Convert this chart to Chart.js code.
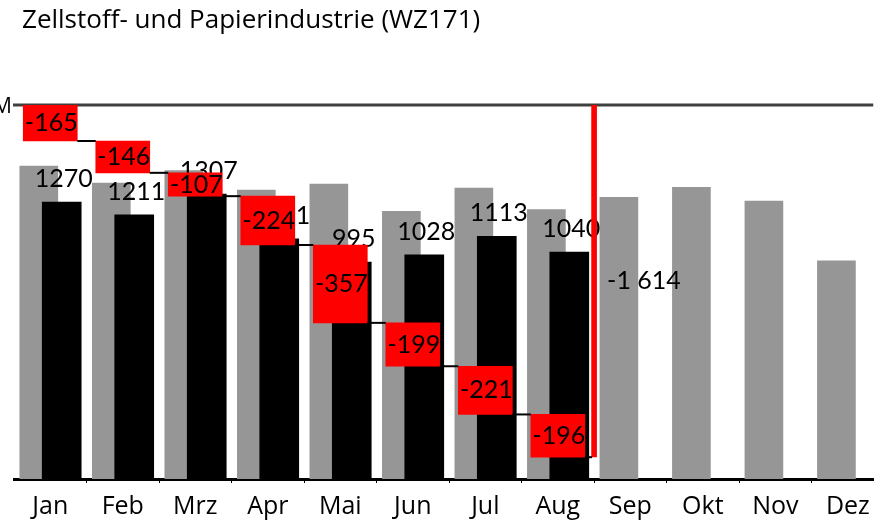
<!DOCTYPE html>
<html>
<head>
<meta charset="utf-8">
<script src="https://cdn.jsdelivr.net/npm/chart.js@4.4.1/dist/chart.umd.min.js"></script>
<style>
  html, body { margin: 0; padding: 0; background: #fff; }
  #wrap { width: 879px; height: 524px; }
</style>
</head>
<body>
<div id="wrap"><canvas id="umsatzChart"></canvas></div>
<script>
// Daten
const monate = ['Jan', 'Feb', 'Mrz', 'Apr', 'Mai', 'Jun', 'Jul', 'Aug', 'Sep', 'Okt', 'Nov', 'Dez']
const vorjahr = [1435, 1357, 1414, 1325, 1352, 1227, 1334, 1236, 1292, 1338, 1274, 1000]
const aktuell = [1270, 1211, 1307, 1101, 995, 1028, 1113, 1040]
const differenz = [-165, -146, -107, -224, -357, -199, -221, -196]
const gesamt = -1614
const titel = 'Zellstoff- und Papierindustrie (WZ171)'

// kumulierte Differenz fuer den Wasserfall
let kum = []
let summe = 0
for (let i = 0; i < differenz.length; i++) {
    summe += differenz[i]
    kum.push(summe)
}

const versatz = 0.158   // Verschiebung grau/schwarz innerhalb des Monats
const yMax = 1715
const xMin = -0.5
const xMax = 11.35

function tausender(v){
    let s = String(Math.abs(v)).replace(/\B(?=(\d{3})+(?!\d))/g, ' ')
    return (v < 0 ? '-' : '') + s
}

const beschriftung = {
    id: 'beschriftung',
    beforeDatasetsDraw(chart){
        const {ctx, chartArea, scales} = chart
        const y0 = scales.y2.getPixelForValue(0)
        ctx.save()
        ctx.strokeStyle = '#404040'
        ctx.lineWidth = 3
        ctx.beginPath()
        ctx.moveTo(13, y0)
        ctx.lineTo(chartArea.right, y0)
        ctx.stroke()
        ctx.restore()
    },
    afterDatasetDraw(chart, args){
        // Werte ueber den schwarzen Saeulen, unter dem Wasserfall
        if (chart.data.datasets[args.index].label !== 'aktuell') return
        const {ctx, scales} = chart
        ctx.save()
        ctx.font = '25px Lato'
        ctx.fillStyle = '#000'
        ctx.textAlign = 'center'
        ctx.textBaseline = 'middle'
        aktuell.forEach((v, i) => {
            ctx.fillText(String(v), scales.x.getPixelForValue(i + versatz) + 2, scales.y.getPixelForValue(v) - 23)
        })
        ctx.restore()
    },
    afterDatasetsDraw(chart){
        const {ctx, scales} = chart
        const x = scales.x, y2 = scales.y2
        const halb = 27
        const gesamtX = x.getPixelForValue(aktuell.length - 0.5)

        // Verbindungslinien
        ctx.save()
        ctx.strokeStyle = '#000'
        ctx.lineWidth = 2
        kum.forEach((k, i) => {
            const yy = y2.getPixelForValue(k)
            const von = x.getPixelForValue(i) + halb
            const bis = i < kum.length - 1 ? x.getPixelForValue(i + 1) - halb : gesamtX - 2
            ctx.beginPath()
            ctx.moveTo(von, yy)
            ctx.lineTo(bis, yy)
            ctx.stroke()
        })

        // Differenzen im Wasserfall
        ctx.font = '25px Lato'
        ctx.fillStyle = '#000'
        ctx.textAlign = 'center'
        ctx.textBaseline = 'middle'
        differenz.forEach((d, i) => {
            const oben = y2.getPixelForValue(kum[i] - d)
            const unten = y2.getPixelForValue(kum[i])
            ctx.fillText(String(d), x.getPixelForValue(i) + 1, (oben + unten) / 2)
        })

        // Gesamtwert
        ctx.textAlign = 'left'
        ctx.fillText(tausender(gesamt), gesamtX + 13, (y2.getPixelForValue(0) + y2.getPixelForValue(gesamt)) / 2)
        ctx.restore()
    },
    afterDraw(chart){
        const {ctx, scales} = chart
        ctx.save()
        ctx.fillStyle = '#000'
        ctx.textBaseline = 'middle'
        ctx.font = '26px "Open Sans"'
        ctx.textAlign = 'left'
        ctx.fillText(titel, 22, 21)
        ctx.font = '21px "Open Sans"'
        ctx.textAlign = 'right'
        ctx.fillText('M', 12, scales.y2.getPixelForValue(0) + 2)
        ctx.restore()
    }
}

const ctx = document.getElementById('umsatzChart').getContext('2d')
const myChart = new Chart(ctx, {
    type: 'bar',
    data: {
        datasets: [
            {
                label: 'gesamt',
                data: [{x: aktuell.length - 0.5, y: [0, gesamt]}],
                yAxisID: 'y2',
                backgroundColor: '#ff0000',
                barThickness: 5,
                stack: 'alle'
            },
            {
                label: 'differenz',
                data: differenz.map((d, i) => ({x: i, y: [kum[i] - d, kum[i]]})),
                yAxisID: 'y2',
                backgroundColor: '#ff0000',
                barThickness: 54,
                stack: 'alle'
            },
            {
                label: 'aktuell',
                data: aktuell.map((v, i) => ({x: i + versatz, y: v})),
                yAxisID: 'y',
                backgroundColor: '#000000',
                barThickness: 39,
                stack: 'alle'
            },
            {
                label: 'vorjahr',
                data: vorjahr.map((v, i) => ({x: i - versatz, y: v})),
                yAxisID: 'y',
                backgroundColor: '#969696',
                barThickness: 38,
                stack: 'alle'
            }
        ]
    },
    options: {
        responsive: true,
        maintainAspectRatio: false,
        animation: false,
        devicePixelRatio: 1,
        events: [],
        layout: {
            padding: {left: 14, right: 0, top: 105, bottom: 0}
        },
        plugins: {
            legend: {display: false},
            title: {display: false},
            tooltip: {enabled: false}
        },
        scales: {
            x: {
                type: 'linear',
                position: 'bottom',
                min: xMin,
                max: xMax,
                stacked: true,
                offset: false,
                weight: 1,
                grid: {display: false, drawTicks: false, offset: false},
                border: {display: false},
                afterBuildTicks: s => { s.ticks = monate.map((m, i) => ({value: i})) },
                afterFit: s => { s.height = 41 },
                ticks: {
                    color: '#000',
                    font: {family: 'Open Sans', size: 25},
                    padding: 9,
                    maxRotation: 0,
                    autoSkip: false,
                    callback: v => monate[v]
                }
            },
            xt: {
                type: 'linear',
                position: 'bottom',
                min: xMin,
                max: xMax,
                offset: false,
                weight: 0,
                grid: {display: true, drawOnChartArea: false, drawTicks: true, tickLength: 4, color: '#000', offset: false},
                border: {display: true, color: '#000', width: 3},
                afterBuildTicks: s => { s.ticks = monate.map((m, i) => ({value: i + 0.5})) },
                afterFit: s => { s.height = 4 },
                ticks: {display: false}
            },
            y: {
                display: false,
                min: 0,
                max: yMax,
                stacked: false
            },
            y2: {
                display: false,
                min: -yMax,
                max: 0,
                stacked: false
            }
        }
    },
    plugins: [beschriftung]
})
</script>
</body>
</html>
